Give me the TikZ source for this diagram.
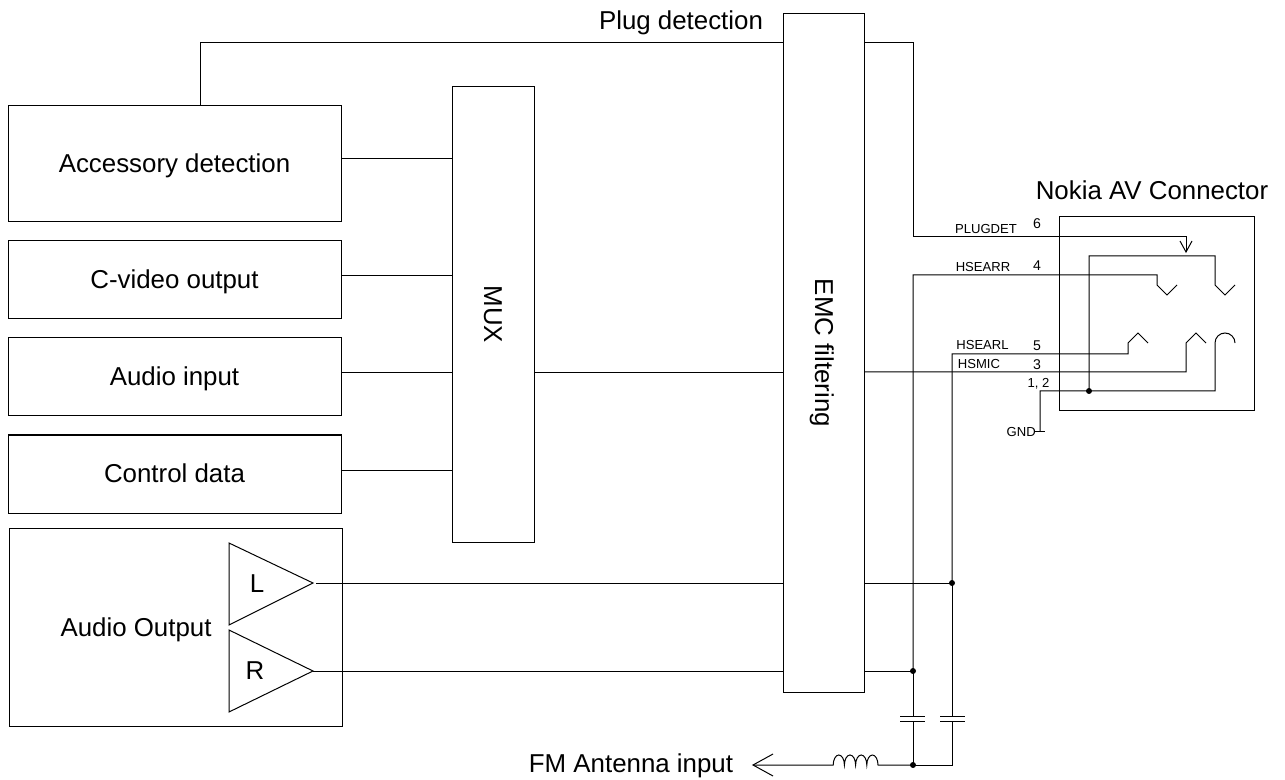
\documentclass[tikz,border=0pt]{standalone}
\usepackage{fontspec}
\setmainfont{Liberation Sans}

\tikzset{
  wire/.style={line width=0.75pt,line join=miter},
  blockbox/.style={draw,line width=0.75pt,inner sep=0pt,outer sep=0pt,minimum width=249.75pt},
  biglabel/.style={inner sep=0pt,text height=14pt,text depth=0.6pt,font=\fontsize{19.4}{22}\selectfont},
  pinlabel/.style={inner sep=0pt,font=\fontsize{9.8}{11}\selectfont},
  pinnumber/.style={inner sep=0pt,font=\fontsize{10.6}{12}\selectfont},
  joint/.style={circle,fill=black,inner sep=0pt,minimum size=4.5pt}
}

\begin{document}
\begin{tikzpicture}[x=0.75pt,y=-0.75pt]
      \useasboundingbox (0,0) rectangle (1285,780);

      \node[blockbox,minimum height=87pt,biglabel] (accessory) at (174.5,164) {Accessory detection};
      \node[blockbox,minimum height=58.5pt,biglabel] (cvideo) at (174.5,280) {C-video output};
      \node[blockbox,minimum height=58.5pt,biglabel] (audioin) at (174.5,377) {Audio input};
      \node[blockbox,minimum height=58.5pt,biglabel] (control) at (174.5,474) {Control data};
      \node[blockbox,minimum height=148.5pt] (audioout) at (175.5,627) {};
      \node[biglabel] (audiooutlabel) at (136,628) {Audio Output};
      \node[blockbox,minimum width=61.5pt,minimum height=341.25pt] (mux) at (493,314.5) {};
      \node[biglabel,rotate=-90] (muxlabel) at (493,314.5) {MUX};
      \node[blockbox,minimum width=60.75pt,minimum height=508.5pt] (emc) at (823.5,353) {};
      \node[biglabel,rotate=-90] (emclabel) at (824,353) {EMC filtering};
      \node[blockbox,minimum width=146.25pt,minimum height=145.5pt] (conn) at (1156.5,314) {};
      \node[biglabel] (connlabel) at (1152,191) {Nokia AV Connector};
      \node[biglabel] (pluglabel) at (681,21) {Plug detection};
      \node[biglabel] (fmlabel) at (631,764) {FM Antenna input};

      % amplifiers
      \coordinate (ampl) at (313,583);
      \coordinate (amplout) at (316,583);
      \coordinate (ampr) at (313,671);
      \draw[wire] (229,543) -- (229,625) -- (ampl) -- cycle;
      \draw[wire] (229,630) -- (229,712) -- (ampr) -- cycle;
      \node[biglabel] (llabel) at (257,584) {L};
      \node[biglabel] (rlabel) at (255,671) {R};

      % mux inputs
      \coordinate (muxa) at (452,159);
      \coordinate (muxb) at (452,276);
      \coordinate (muxc) at (452,373);
      \coordinate (muxd) at (452,470);
      \draw[wire] (accessory.east |- muxa) -- (muxa);
      \draw[wire] (cvideo.east |- muxb) -- (muxb);
      \draw[wire] (audioin.east |- muxc) -- (muxc);
      \draw[wire] (control.east |- muxd) -- (muxd);
      \draw[wire] (mux.east |- muxc) -- (emc.west |- muxc);

      % plug detection
      \coordinate (plugup) at (200,43);
      \coordinate (plugturn) at (913,237);
      \coordinate (plugtip) at (1186,252);
      \draw[wire] (accessory.north -| plugup) -- (plugup) -- (emc.west |- plugup);
      \draw[wire] (emc.east |- plugup) -- (plugturn |- plugup) -- (plugturn) -- (plugtip |- plugturn) -- (plugtip);
      \draw[wire] (1180,241) -- (plugtip) -- (1192,241);

      % switch contacts
      \coordinate (gndjoint) at (1089,391);
      \coordinate (contactb) at (1215,285);
      \coordinate (contactr) at (1157,285);
      \coordinate (contactl) at (1128,343);
      \coordinate (contactm) at (1186,343);
      \coordinate (contacts) at (1215,343);
      \coordinate (gndturn) at (1040,391);
      \coordinate (gndend) at (1040,432);
      \draw[wire] (gndjoint) -- (1089,256) -- (1215,256) -- (contactb) -- ++(10,10) -- ++(10,-10);
      \draw[wire] (913,671) -- (913,275) -- (1157,275) -- (contactr) -- ++(10,10) -- ++(10,-10);
      \draw[wire] (952,583) -- (952,354) -- (1128,354) -- (contactl) -- ++(10,-10) -- ++(10,10);
      \draw[wire] (emc.east |- 0,372) -- (1186,372) -- (contactm) -- ++(10,-10) -- ++(10,10);
      \draw[wire] (gndend) -- (gndturn) -- (1215,391) -- (contacts) arc[start angle=180,end angle=360,radius=10];
      \draw[wire] (1035,432) -- (1045,432);
      \node[joint] (jointg) at (gndjoint) {};

      % audio outputs
      \coordinate (jointlpos) at (952,583);
      \coordinate (jointrpos) at (913,671);
      \coordinate (jointfmpos) at (913,765);
      \draw[wire] (amplout) -- (emc.west |- ampl);
      \draw[wire] (ampr) -- (emc.west |- ampr);
      \draw[wire] (emc.east |- ampl) -- (jointlpos);
      \draw[wire] (emc.east |- ampr) -- (jointrpos);
      \node[joint] (jointl) at (jointlpos) {};
      \node[joint] (jointr) at (jointrpos) {};

      % capacitors and FM input
      \coordinate (capa) at (913,716);
      \coordinate (capb) at (952,716);
      \coordinate (capc) at (913,721);
      \coordinate (capd) at (952,721);
      \draw[wire] (jointrpos) -- (capa);
      \draw[wire] (jointlpos) -- (capb);
      \draw[wire] (900,716) -- (925,716);
      \draw[wire] (900,721) -- (925,721);
      \draw[wire] (940,716) -- (965,716);
      \draw[wire] (940,721) -- (965,721);
      \draw[wire] (capc) -- (jointfmpos);
      \draw[wire] (capd) -- (952,765) -- (jointfmpos);
      \coordinate (coilb) at (878,765);
      \coordinate (fmtip) at (753,765);
      \draw[wire] (jointfmpos) -- (coilb)
        arc[start angle=0,end angle=-180,x radius=5.6,y radius=10]
        arc[start angle=0,end angle=-180,x radius=5.6,y radius=10]
        arc[start angle=0,end angle=-180,x radius=5.6,y radius=10]
        arc[start angle=0,end angle=-180,x radius=5.6,y radius=10] -- (fmtip);
      \draw[wire] (773,754) -- (fmtip) -- (773,776);
      \node[joint] (jointfm) at (jointfmpos) {};

      % pin labels
      \node[pinlabel] (plugdet) at (986,229) {PLUGDET};
      \node[pinlabel] (hsearr) at (983,267) {HSEARR};
      \node[pinlabel] (hsearl) at (982.5,345) {HSEARL};
      \node[pinlabel] (hsmic) at (979,364) {HSMIC};
      \node[pinnumber] (pinsix) at (1037,224) {6};
      \node[pinnumber] (pinfour) at (1037,266) {4};
      \node[pinnumber] (pinfive) at (1037,346) {5};
      \node[pinnumber] (pinthree) at (1037,365) {3};
      \node[pinlabel] (pinone) at (1038.5,384) {1, 2};
      \node[pinlabel,anchor=east] (gnd) at (1036,432) {GND};
    \end{tikzpicture}
\end{document}
